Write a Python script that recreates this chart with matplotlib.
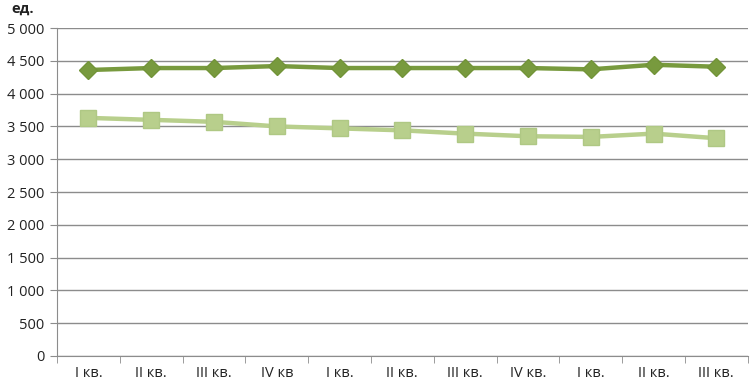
import matplotlib
matplotlib.use('Agg')
import matplotlib.pyplot as plt
import numpy as np

# quarters
quarters = ['I кв.', 'II кв.', 'III кв.', 'IV кв', 'I кв.', 'II кв.', 'III кв.',
            'IV кв.', 'I кв.', 'II кв.', 'III кв.']
series_top = [4360, 4390, 4390, 4420, 4390, 4390, 4390, 4390, 4370, 4440, 4410]
series_bottom = [3630, 3600, 3570, 3500, 3470, 3440, 3390, 3350, 3340, 3390, 3320]
y_ticks = [0, 500, 1000, 1500, 2000, 2500, 3000, 3500, 4000, 4500, 5000]

plt.rcParams['font.family'] = ['Open Sans', 'DejaVu Sans']

fig = plt.figure(figsize=(7.5, 3.84), dpi=100)
ax = fig.add_axes([0.076, 0.073, 0.921, 0.854])

x = np.arange(len(quarters))
ax.plot(x, series_bottom, color='#b8cf8c', linewidth=3.2, marker='s', markersize=11,
        markeredgecolor='#afc884', markerfacecolor='#b8cf8c', zorder=3)
ax.plot(x, series_top, color='#789a3e', linewidth=3.2, marker='D', markersize=9,
        markeredgecolor='#729438', markerfacecolor='#789a3e', zorder=4)

ax.set_ylim(0, 5000)
ax.set_xlim(-0.5, len(quarters) - 0.5)
ax.set_yticks(y_ticks)
ax.set_yticklabels([f'{v:,}'.replace(',', ' ') for v in y_ticks], fontsize=10.5, color='#222222')
ax.yaxis.grid(True, color='#8c8c8c', linewidth=1)
ax.set_axisbelow(True)

# category labels at centres, tick marks at the boundaries
ax.set_xticks(x)
ax.set_xticklabels(quarters, fontsize=10.5, color='#222222')
ax.tick_params(axis='x', which='major', length=0, pad=7)
ax.set_xticks(np.arange(-0.5, len(quarters)), minor=True)
ax.tick_params(axis='x', which='minor', length=5, color='#8c8c8c')
ax.tick_params(axis='y', length=5, color='#8c8c8c', pad=4)

for side in ['top', 'right']:
    ax.spines[side].set_visible(False)
ax.spines['left'].set_color('#8c8c8c')
ax.spines['bottom'].set_color('#8c8c8c')

fig.text(0.015, 0.995, 'ед.', fontsize=10.5, fontweight='bold', va='top', ha='left', color='#222222')

fig.savefig('out.png', dpi=100)
